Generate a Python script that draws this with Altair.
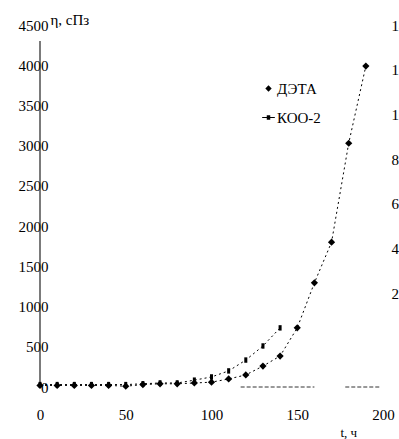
import altair as alt
import pandas as pd

# ---- data ----
t_vals = [0, 10, 20, 30, 40, 50, 60, 70, 80, 90, 100, 110, 120, 130, 140, 150, 160, 170, 180, 190]
deta_vals = [20, 20, 20, 20, 20, 10, 30, 40, 40, 50, 60, 100, 150, 260, 385, 735, 1295, 1800, 3030, 3990]
t_koo = [0, 10, 20, 30, 40, 50, 60, 70, 80, 90, 100, 110, 120, 130, 140]
koo_vals = [30, 30, 30, 30, 30, 30, 40, 50, 50, 85, 125, 200, 335, 510, 735]
series_names = ["ДЭТА", "КОО-2"]
x_ticks = [0, 50, 100, 150, 200]
y_ticks = [0, 500, 1000, 1500, 2000, 2500, 3000, 3500, 4000, 4500]
right_ticks = [2, 4, 6, 8, 10, 12, 14]
axis_top = 4300
frag_dashed = [117, 160]
frag_solid = [178, 198]

df = pd.concat([
    pd.DataFrame({"t": t_vals, "eta": deta_vals, "s": series_names[0]}),
    pd.DataFrame({"t": t_koo, "eta": koo_vals, "s": series_names[1]}),
], ignore_index=True)

FONT = "Liberation Serif, serif"

xscale = alt.Scale(domain=[0, 200], nice=False, zero=False)
yscale = alt.Scale(domain=[0, 4500], nice=False)

x_enc = alt.X("t:Q", scale=xscale, axis=alt.Axis(
    values=x_ticks, format="d", domain=False, ticks=False, grid=False, labelPadding=20,
    labelFont=FONT, titleFont=FONT,
    title="t, ч", titleX=300, titleY=45, titleAlign="left", titleBaseline="middle",
    titleFontWeight="normal", titleFontSize=13, labelFontSize=15, labelFlush=False))
y_enc = alt.Y("eta:Q", scale=yscale, axis=alt.Axis(
    values=y_ticks, format="d", domain=False, ticks=False, grid=False, labelPadding=-8,
    labelOverlap=False, labelFontSize=15, labelFont=FONT, titleFont=FONT,
    title="η, сПз", titleAngle=0, titleX=10, titleY=-6, titleAlign="left",
    titleBaseline="middle", titleFontWeight="normal", titleFontSize=15))

rect_path = "M-0.42,-0.75H0.42V0.75H-0.42Z"
legend_rect_path = "M-2,-0.15H2V0.15H-2ZM-0.55,-0.75H0.55V0.75H-0.55Z"

base = alt.Chart(df)

lines = base.mark_line(color="black", strokeWidth=1, strokeDash=[2, 3]).encode(
    x=x_enc, y=y_enc, detail="s:N")

points = base.mark_point(filled=True, color="black", opacity=1, strokeWidth=0).encode(
    x=alt.X("t:Q", scale=xscale),
    y=alt.Y("eta:Q", scale=yscale),
    shape=alt.Shape("s:N", scale=alt.Scale(domain=series_names, range=["diamond", rect_path]),
                    legend=None),
    size=alt.value(52),
)

legend_pts = base.transform_filter("datum.t < -1000").mark_point(
    filled=True, color="black", strokeWidth=0).encode(
    x=alt.X("t:Q", scale=xscale),
    y=alt.Y("eta:Q", scale=yscale),
    shape=alt.Shape("s:N", scale=alt.Scale(domain=series_names,
                                           range=["diamond", legend_rect_path]),
                    legend=alt.Legend(
                        title=None, orient="none", legendX=221, legendY=56, padding=0,
                        labelFont=FONT, labelFontSize=15, labelOffset=1, rowPadding=13,
                        symbolSize=40, symbolFillColor="black", symbolOpacity=1)),
    size=alt.value(40),
)

yaxis_rule = alt.Chart(pd.DataFrame({"t": [0], "eta": [0], "top": [axis_top]})).mark_rule(
    color="#222", strokeWidth=1.2).encode(
    x=alt.X("t:Q", scale=xscale), y=alt.Y("eta:Q", scale=yscale), y2="top:Q")

frag_df = pd.DataFrame({"a": [frag_dashed[0], frag_solid[0]],
                        "b": [frag_dashed[1], frag_solid[1]],
                        "eta": [0, 0]})
frags = alt.Chart(frag_df).mark_rule(color="#333", strokeWidth=1, strokeDash=[4, 2]).encode(
    x=alt.X("a:Q", scale=xscale), x2="b:Q", y=alt.Y("eta:Q", scale=yscale))

main = alt.layer(lines, yaxis_rule, frags, points, legend_pts).resolve_scale(
    shape="independent").resolve_legend(shape="independent")

right = alt.Chart(pd.DataFrame({"v": right_ticks, "t": [0] * len(right_ticks)})).mark_point(
    opacity=0).encode(
    x=alt.X("t:Q", scale=xscale),
    y=alt.Y("v:Q", scale=alt.Scale(domain=[-2.19, 14.0], nice=False, zero=False),
            axis=alt.Axis(orient="right", values=right_ticks, format="d", domain=False,
                          ticks=False, grid=False, labelPadding=8, labelFontSize=15,
                          labelFont=FONT, labelOverlap=False, title=None,
                          labelAlign="left")))

chart = alt.layer(main, right).resolve_scale(y="independent").properties(
    width=343, height=362,
    autosize=alt.AutoSizeParams(type="none"),
    padding={"left": 40, "top": 25, "right": 16, "bottom": 52},
).configure(font=FONT).configure_view(stroke=None).configure_axis(
    labelFont=FONT, titleFont=FONT, labelColor="black", titleColor="black"
).configure_legend(labelFont=FONT, labelColor="black")

chart.save("out.html", embed_options={"renderer": "svg", "actions": False})
